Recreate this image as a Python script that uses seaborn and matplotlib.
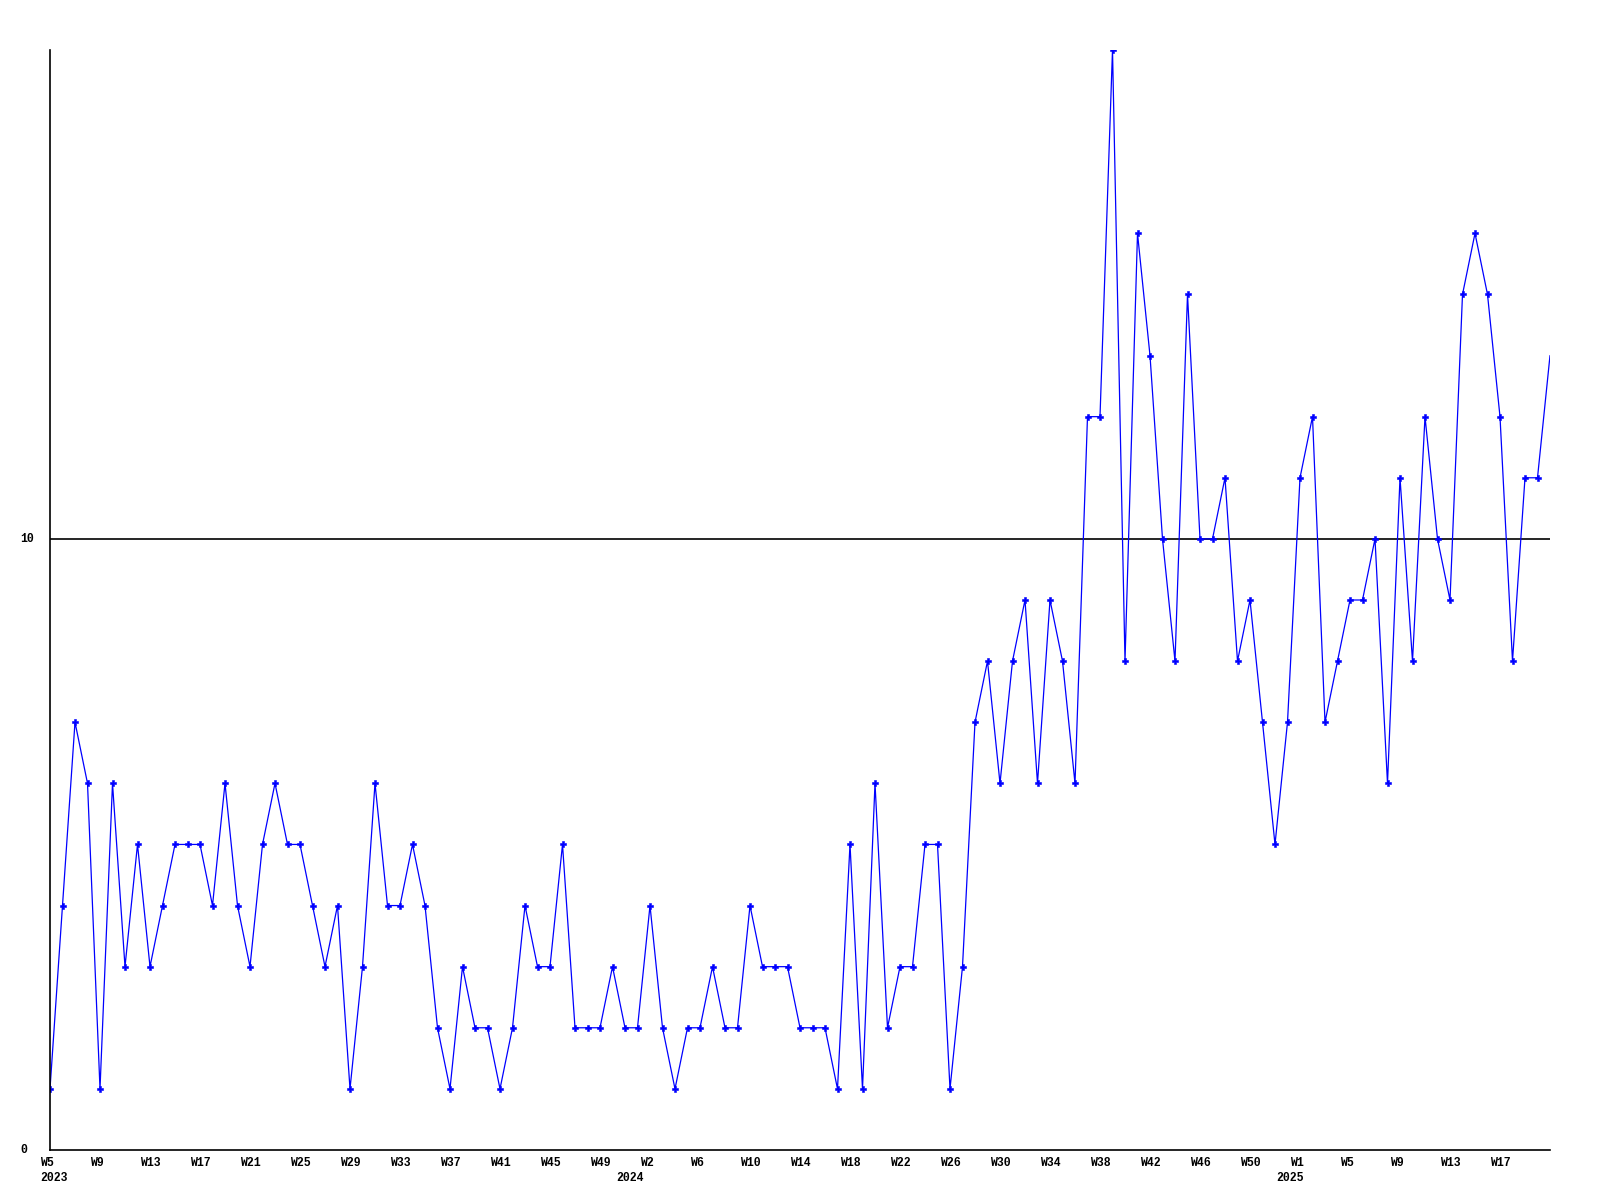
import matplotlib
matplotlib.use("Agg")
import matplotlib.pyplot as plt
import seaborn as sns
import pandas as pd

values_2023 = [1, 4, 7, 6, 1, 6, 3, 5, 3, 4, 5, 5, 5, 4, 6, 4, 3, 5, 6, 5, 5, 4, 3, 4,
               1, 3, 6, 4, 4, 5, 4, 2, 1, 3, 2, 2, 1, 2, 4, 3, 3, 5, 2, 2, 2, 3, 2, 2]
values_2024 = [4, 2, 1, 2, 2, 3, 2, 2, 4, 3, 3, 3, 2, 2, 2, 1, 5, 1, 6, 2, 3, 3, 5, 5, 1, 3,
               7, 8, 6, 8, 9, 6, 9, 8, 6, 12, 12, 18, 8, 15, 13, 10, 8, 14, 10, 10, 11, 8, 9, 7, 5, 7]
values_2025 = [11, 12, 7, 8, 9, 9, 10, 6, 11, 8, 12, 10, 9, 14, 15, 14, 12, 8, 11, 11, 13]

week_labels = ["W5", "W9", "W13", "W17", "W21", "W25", "W29", "W33", "W37", "W41", "W45", "W49",
               "W2", "W6", "W10", "W14", "W18", "W22", "W26", "W30", "W34", "W38", "W42", "W46", "W50",
               "W1", "W5", "W9", "W13", "W17"]
year_labels = ["2023", "2024", "2025"]

values = values_2023 + values_2024 + values_2025
df = pd.DataFrame({"idx": range(len(values)), "count": values})

sns.set_style("white")
plt.rcParams["font.family"] = ["Liberation Mono", "DejaVu Sans Mono"]
plt.rcParams["font.weight"] = "bold"

fig = plt.figure(figsize=(16, 12), dpi=100)
ax = fig.add_axes([50 / 1600, 50 / 1200, 1500 / 1600, 1100 / 1200])

sns.lineplot(data=df, x="idx", y="count", ax=ax, color="#0000ff", linewidth=0.9,
             marker="P", markersize=4.6, markeredgewidth=0.4, markeredgecolor="#0000ff",
             markevery=list(range(len(values) - 1)))

ax.axhline(10, color="black", linewidth=1.2, zorder=1)
ax.set_xlim(0, len(values) - 1)
ax.set_ylim(0, 18)
for s in ["top", "right"]:
    ax.spines[s].set_visible(False)
for s in ["left", "bottom"]:
    ax.spines[s].set_color("black")
    ax.spines[s].set_linewidth(1.2)
ax.set_xlabel("")
ax.set_ylabel("")

ax.set_yticks([0, 10])
ax.set_yticklabels([])
ax.tick_params(length=0)
ax.set_xticks([])

trans_y = ax.get_yaxis_transform()
for v in [0, 10]:
    ax.text(-30 / 1500, v, str(v), transform=trans_y, ha="left", va="center",
            fontsize=8.3, fontweight="bold", color="black")

trans_x = ax.get_xaxis_transform()
for k, lab in enumerate(week_labels):
    ax.text(4 * k - 0.8, -0.0065, lab, transform=trans_x, ha="left", va="top",
            fontsize=8.3, fontweight="bold", color="black", clip_on=False)

year_pos = [(-0.8, "left"), (46.4, "center"), (99.2, "center")]
for (xp, ha), lab in zip(year_pos, year_labels):
    ax.text(xp, -0.020, lab, transform=trans_x, ha=ha, va="top",
            fontsize=8.3, fontweight="bold", color="black", clip_on=False)

fig.savefig("out.png", dpi=100, facecolor="white")
